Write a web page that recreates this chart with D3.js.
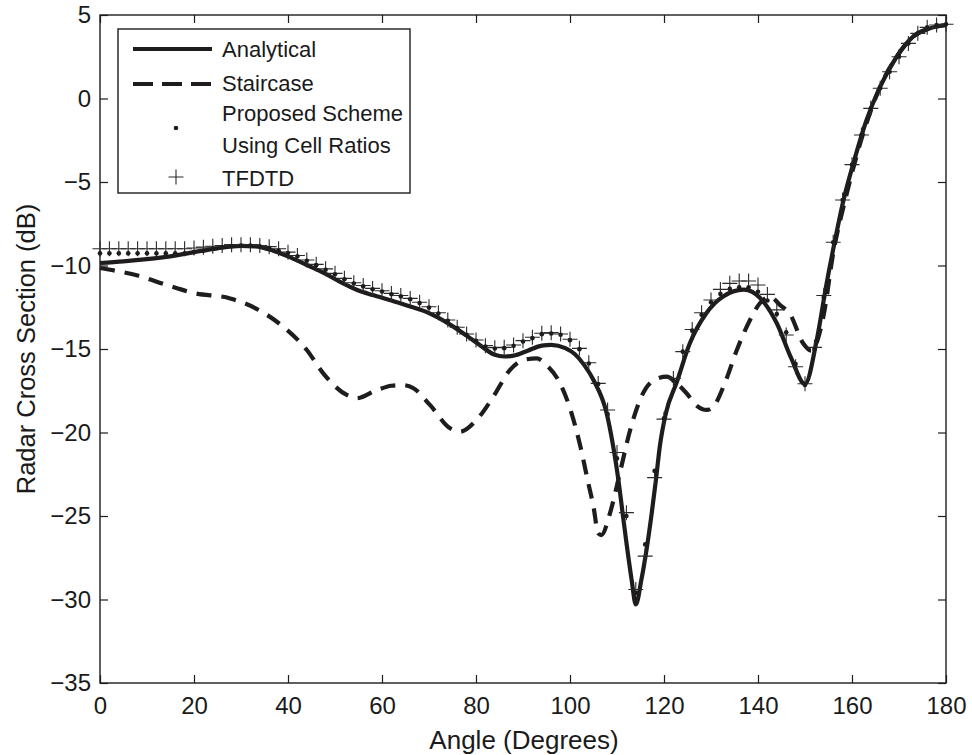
<!doctype html>
<html>
<head>
<meta charset="utf-8">
<script src="https://d3js.org/d3.v7.min.js"></script>
<style>
  body { margin: 0; background: #fff; }
  text { font-family: "Liberation Sans", Arial, Helvetica, sans-serif; fill: #1a1a1a; }
</style>
</head>
<body>
<svg id="chart" width="972" height="755"></svg>
<script>
// x ticks / y ticks
var xTicks = [0, 20, 40, 60, 80, 100, 120, 140, 160, 180]
var yTicks = [-35, -30, -25, -20, -15, -10, -5, 0, 5]

// Analytical (solid)
var anaAngle = [0, 5, 10, 15, 20, 25, 30, 33, 37, 40, 44, 48, 51, 55, 58, 62, 66, 70, 74, 78, 81, 84, 86, 88, 91, 94, 96, 99, 101, 103,
  105, 107.8, 109.2, 110.3, 111.2, 112.1, 113.1, 114, 115.2, 116.4, 117.4, 118.3, 119.1, 120.4, 122.7, 125.5, 129, 132.5, 137, 140.5,
  144, 147, 150, 152.5, 154.6, 156.4, 158.2, 160.3, 163.1, 166, 169.5, 173, 176.6, 180]
var anaRCS = [-9.85, -9.75, -9.62, -9.45, -9.2, -8.97, -8.83, -8.85, -9.13, -9.45, -9.97, -10.5, -10.97, -11.5, -11.77, -12.1, -12.45, -12.85, -13.45, -14.2, -14.8, -15.35, -15.45, -15.4, -15.1, -14.8, -14.75, -14.95, -15.3, -15.95,
  -16.86, -18.85, -20.85, -22.84, -24.84, -26.8, -28.8, -30.3, -28.8, -26.8, -24.8, -22.8, -20.85, -18.85, -17.0, -14.66, -12.86, -11.87, -11.45, -11.96,
  -13.46, -15.5, -17.1, -14.46, -11.07, -8.47, -6.08, -3.88, -1.29, 0.71, 2.5, 3.7, 4.2, 4.4]

// Staircase (dashed)
var stairAngle = [0, 4, 8, 14, 20, 27.7, 33, 39, 44, 47.5, 52.5, 54.6, 58.9, 62, 64.5, 66.7, 70.2, 74.5, 76.6, 80.1, 83.7, 87.2, 90.1, 92.9, 95, 97.9,
  100, 102.1, 103.9, 105, 106, 106.7, 108.5, 110.6, 112.8, 115.2, 117.7, 120.6, 122.5, 124.8, 127, 129.1, 130.5, 133, 135.5, 138.3, 140.4, 142.6,
  144.7, 146.8, 149.6, 151.3, 153.9, 156, 158.9, 162.4, 166, 169.5, 173, 176.6, 180]
var stairRCS = [-10.15, -10.35, -10.6, -11.15, -11.65, -11.97, -12.55, -13.67, -15.06, -16.46, -17.75, -17.95, -17.46, -17.2, -17.16, -17.35, -18.35, -19.75, -19.95, -19.25, -17.85, -16.26, -15.66, -15.56, -15.96, -17.06,
  -18.55, -20.7, -23.04, -24.44, -26.04, -26.14, -24.84, -22.44, -19.85, -17.85, -16.9, -16.66, -17.0, -17.65, -18.4, -18.65, -18.45, -17.0, -15.06, -13.26, -12.26, -11.87,
  -12.37, -12.9, -14.66, -15.1, -13.07, -9.27, -5.68, -2.08, 0.71, 2.5, 3.7, 4.2, 4.4]

// marker angles (every 2 degrees)
var markAngle = [0, 2, 4, 6, 8, 10, 12, 14, 16, 18, 20, 22, 24, 26, 28, 30, 32, 34, 36, 38, 40, 42, 44, 46, 48, 50, 52, 54, 56, 58,
  60, 62, 64, 66, 68, 70, 72, 74, 76, 78, 80, 82, 84, 86, 88, 90, 92, 94, 96, 98, 100, 102, 104, 106, 108, 110, 112, 114, 116, 118,
  120, 122, 124, 126, 128, 130, 132, 134, 136, 138, 140, 142, 144, 146, 148, 150, 152, 154, 156, 158, 160, 162, 164, 166, 168, 170, 172, 174, 176, 178, 180]

// TFDTD (+)
var tfdtdRCS = [-9.0, -9.0, -9.0, -9.0, -9.0, -9.0, -9.0, -9.0, -9.0, -9.0, -8.95, -8.9, -8.85, -8.8, -8.75, -8.75, -8.75, -8.8, -8.87, -9.0,
  -9.2, -9.4, -9.67, -9.93, -10.2, -10.47, -10.77, -11.03, -11.2, -11.37, -11.51, -11.67, -11.8, -11.97, -12.2, -12.47, -12.83, -13.26, -13.7, -14.1,
  -14.46, -14.8, -14.92, -14.9, -14.76, -14.5, -14.3, -14.06, -14.02, -14.1, -14.42, -14.96, -15.82, -17.06, -18.65, -21.2, -24.8, -29.4, -27.4, -22.7,
  -19.2, -16.76, -15.16, -13.83, -12.83, -12.07, -11.43, -11.07, -10.93, -10.93, -11.17, -11.73, -12.66, -14.16, -16.06, -17.08, -14.9, -11.8, -8.61, -6.08,
  -3.96, -2.19, -0.59, 0.61, 1.6, 2.5, 3.3, 3.9, 4.26, 4.4, 4.45]

// Proposed scheme using cell ratios (dots)
var propRCS = [-9.27, -9.27, -9.27, -9.27, -9.27, -9.27, -9.27, -9.27, -9.27, -9.27, -9.2, -9.1, -9.0, -8.9, -8.85, -8.8, -8.8, -8.85, -8.95, -9.1,
  -9.25, -9.45, -9.72, -9.98, -10.25, -10.52, -10.82, -11.08, -11.25, -11.42, -11.56, -11.72, -11.85, -12.02, -12.25, -12.52, -12.88, -13.31, -13.75, -14.15,
  -14.51, -14.85, -14.97, -14.95, -14.81, -14.55, -14.35, -14.11, -14.07, -14.15, -14.47, -15.01, -15.87, -17.1, -18.9, -21.55, -25.0, -29.6, -26.7, -22.3,
  -19.15, -16.9, -15.16, -13.9, -12.95, -12.2, -11.7, -11.4, -11.3, -11.3, -11.57, -12.1, -12.9, -14.0, -15.9, -17.15, -15.0, -11.9, -8.61, -6.08,
  -3.96, -2.19, -0.59, 0.61, 1.6, 2.5, 3.3, 3.9, 4.26, 4.4, 4.45]

var ink = "#1f1c1d"
var svg = d3.select("#chart")
svg.append("rect").attr("width", 972).attr("height", 755).attr("fill", "#fff")

var x = d3.scaleLinear().domain([0, 180]).range([100, 946])
var y = d3.scaleLinear().domain([-35, 5]).range([683, 15])

// axes, ticks point inward
var gB = svg.append("g").attr("transform", "translate(0,683)")
  .call(d3.axisBottom(x).tickValues(xTicks).tickSizeInner(-8).tickSizeOuter(0).tickPadding(14))
var gL = svg.append("g").attr("transform", "translate(100,0)")
  .call(d3.axisLeft(y).tickValues(yTicks).tickSizeInner(-8).tickSizeOuter(0).tickPadding(9))
var gT = svg.append("g").attr("transform", "translate(0,15)")
  .call(d3.axisTop(x).tickValues(xTicks).tickSizeInner(-8).tickSizeOuter(0).tickFormat(""))
var gR = svg.append("g").attr("transform", "translate(946,0)")
  .call(d3.axisRight(y).tickValues(yTicks).tickSizeInner(-8).tickSizeOuter(0).tickFormat(""))
;[gB, gL, gT, gR].forEach(function (g) {
  g.select(".domain").remove()
  g.selectAll(".tick line").attr("stroke", ink).attr("stroke-width", 1.2)
  g.selectAll(".tick text").attr("font-size", 24).attr("font-family", "Liberation Sans, Arial, sans-serif").attr("fill", ink)
})
svg.append("rect").attr("x", 100).attr("y", 15).attr("width", 846).attr("height", 668)
  .attr("fill", "none").attr("stroke", ink).attr("stroke-width", 1.4)

// axis titles
svg.append("text").attr("x", 524).attr("y", 749).attr("text-anchor", "middle")
  .attr("font-size", 26).text("Angle (Degrees)")
svg.append("text").attr("transform", "translate(35,349) rotate(-90)").attr("text-anchor", "middle")
  .attr("font-size", 25.5).text("Radar Cross Section (dB)")

// lines
var line = d3.line().x(function (d) { return x(d[0]) }).y(function (d) { return y(d[1]) }).curve(d3.curveMonotoneX)
var stairData = stairAngle.map(function (a, i) { return [a, stairRCS[i]] })
var anaData = anaAngle.map(function (a, i) { return [a, anaRCS[i]] })

svg.append("path").datum(stairData).attr("d", line).attr("fill", "none")
  .attr("stroke", ink).attr("stroke-width", 4.2).attr("stroke-dasharray", "15,10")
svg.append("path").datum(anaData).attr("d", line).attr("fill", "none")
  .attr("stroke", ink).attr("stroke-width", 4.2).attr("stroke-linejoin", "round")

// markers
var plusPath = "M-7.5,0H7.5M0,-7.5V7.5"
svg.append("g").selectAll("path").data(markAngle).enter().append("path")
  .attr("transform", function (d, i) { return "translate(" + x(d) + "," + y(tfdtdRCS[i]) + ")" })
  .attr("d", plusPath).attr("stroke", "#2a2a2a").attr("stroke-width", 1.1).attr("fill", "none")
svg.append("g").selectAll("circle").data(markAngle).enter().append("circle")
  .attr("cx", function (d) { return x(d) }).attr("cy", function (d, i) { return y(propRCS[i]) })
  .attr("r", 2.3).attr("fill", ink)

// legend
var lg = svg.append("g")
lg.append("rect").attr("x", 118).attr("y", 29).attr("width", 292).attr("height", 164)
  .attr("fill", "#fff").attr("stroke", ink).attr("stroke-width", 1.4)
lg.append("line").attr("x1", 133).attr("x2", 212).attr("y1", 49).attr("y2", 49)
  .attr("stroke", ink).attr("stroke-width", 4.2)
lg.append("line").attr("x1", 133).attr("x2", 212).attr("y1", 84).attr("y2", 84)
  .attr("stroke", ink).attr("stroke-width", 4.2).attr("stroke-dasharray", "20,9")
lg.append("circle").attr("cx", 176).attr("cy", 128).attr("r", 2.3).attr("fill", ink)
lg.append("path").attr("transform", "translate(176,177)").attr("d", plusPath)
  .attr("stroke", "#2a2a2a").attr("stroke-width", 1.1)
var legText = [["Analytical", 57], ["Staircase", 91], ["Proposed Scheme", 121], ["Using Cell Ratios", 153], ["TFDTD", 186]]
legText.forEach(function (t) {
  lg.append("text").attr("x", 222).attr("y", t[1]).attr("font-size", 22).text(t[0])
})
</script>
</body>
</html>
